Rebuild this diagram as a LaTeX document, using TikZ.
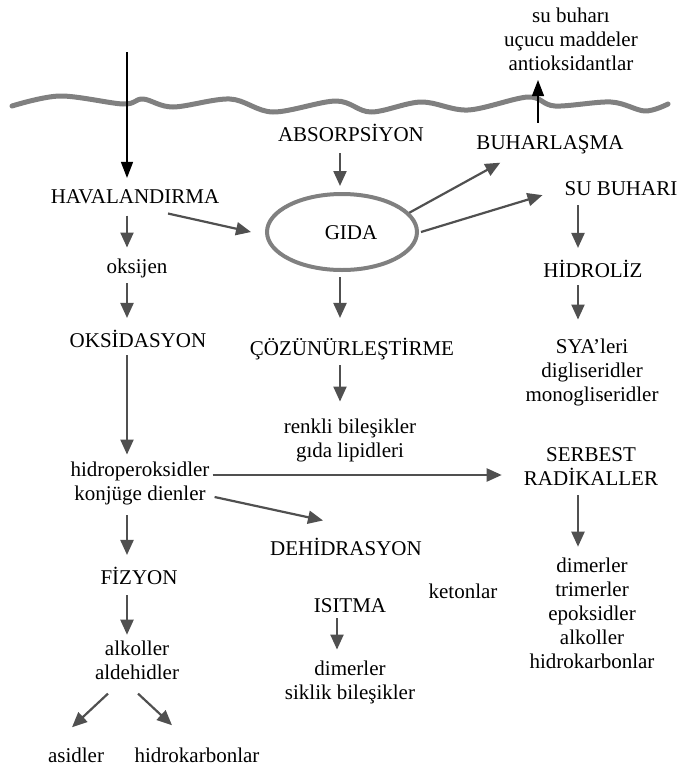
\documentclass[tikz,border=0pt]{standalone}
\usepackage{fontspec}
\setmainfont{Liberation Serif}
\usetikzlibrary{arrows.meta,calc,shapes.geometric}
\definecolor{arrgray}{HTML}{505050}
\definecolor{wavegray}{HTML}{808080}
\begin{document}
\begin{tikzpicture}[x=1pt,y=-1pt,
  lbl/.style={inner sep=0pt, align=center, font=\fontsize{21}{24}\selectfont},
  bl/.style={lbl, anchor=base},
  arr/.style={draw=arrgray, line width=2.2pt, -{Triangle[length=15pt,width=13pt]}},
  blk/.style={draw=black, line width=1.3pt, -{Triangle[length=16pt,width=12pt]}},
  ell/.style={ellipse, draw=wavegray, line width=4pt, minimum width=150pt, minimum height=76pt, inner sep=0pt},
  wave/.style={draw=wavegray, line width=5pt, line join=round, line cap=round}]
\useasboundingbox (0,0) rectangle (678,769);

% surface
\draw[wave] plot[smooth,tension=0.55] coordinates {(12,106) (60,96) (123,104) (143,99) (173,107) (230,99) (273,112) (336,101) (371,112) (421,102) (468,110) (528,97) (555,106) (611,102) (645,111) (668,104)};

% columns
\coordinate (cL) at (127,0);
\coordinate (cM) at (340,0);
\coordinate (cI) at (337,0);
\coordinate (cR) at (578,0);
\coordinate (topL) at (127,52);
\coordinate (topR) at (538,80);

% nodes
\node[lbl] (sub1) at (571,39) {su buharı\\uçucu maddeler\\antioksidantlar};
\node[bl] (hav) at (135,203) {HAVALANDIRMA};
\node[bl] (oksj) at (137,273) {oksijen};
\node[bl] (oksd) at (138,347) {OKSİDASYON};
\node[lbl] (hidro) at (140,483) {hidroperoksidler\\konjüge dienler};
\node[bl] (fiz) at (139,584) {FİZYON};
\node[lbl] (ald) at (137,660) {alkoller\\aldehidler};
\node[bl] (asid) at (76,762) {asidler};
\node[bl] (hk1) at (197,762) {hidrokarbonlar};

\node[bl] (abs) at (351,141) {ABSORPSİYON};
\node[ell] (gida) at (342,232) {};
\node[bl] (gidat) at (351,239) {GIDA};
\node[bl] (coz) at (352,355) {ÇÖZÜNÜRLEŞTİRME};
\node[lbl] (renk) at (350,440) {renkli bileşikler\\gıda lipidleri};
\node[bl] (dehid) at (346,555) {DEHİDRASYON};
\node[bl] (isit) at (350,612) {ISITMA};
\node[bl] (keton) at (463,598) {ketonlar};
\node[lbl] (dim2) at (350,682) {dimerler\\siklik bileşikler};

\node[bl] (buh) at (550,149) {BUHARLAŞMA};
\node[bl] (sub) at (621,195) {SU BUHARI};
\node[bl] (hidrol) at (593,277) {HİDROLİZ};
\node[lbl] (sya) at (592,372) {SYA’leri\\digliseridler\\monogliseridler};
\node[lbl] (ser) at (591,467) {SERBEST\\RADİKALLER};
\node[lbl] (dim1) at (592,613) {dimerler\\trimerler\\epoksidler\\alkoller\\hidrokarbonlar};

% black arrows through the surface
\draw[blk, shorten >=11pt] (topL) -- (hav.north -| topL);
\draw[blk, shorten <=12pt] (buh.north -| topR) -- (topR);

% left column
\draw[arr, shorten <=12pt, shorten >=10.7pt] (hav.south -| cL) -- (oksj.north -| cL);
\draw[arr, shorten <=5.4pt, shorten >=11.5pt] (oksj.south -| cL) -- (oksd.north -| cL);
\draw[arr, shorten <=8pt, shorten >=6.7pt] (oksd.south -| cL) -- (hidro.north -| cL);
\draw[arr, shorten <=10.4pt, shorten >=11.5pt] (hidro.south -| cL) -- (fiz.north -| cL);
\draw[arr, shorten <=11pt, shorten >=5.7pt] (fiz.south -| cL) -- (ald.north -| cL);
\draw[arr] ([shift={(-29,14)}]ald.south) -- ([shift={(-4,-20)}]asid.north);
\draw[arr] ([shift={(1,14)}]ald.south) -- ([shift={(-25,-22)}]hk1.north);

% middle column
\draw[arr, shorten <=12pt, shorten >=6pt] (abs.south -| cM) -- (gida.north -| cM);
\draw[arr, shorten <=5pt, shorten >=19.5pt] (gida.south -| cM) -- (coz.north -| cM);
\draw[arr, shorten <=5.7pt, shorten >=16.7pt] (coz.south -| cM) -- (renk.north -| cM);
\draw[arr, shorten <=6pt, shorten >=10.7pt] (isit.south -| cI) -- (dim2.north -| cI);

% right column
\draw[arr, shorten <=10pt, shorten >=11.5pt] (sub.south -| cR) -- (hidrol.north -| cR);
\draw[arr, shorten <=8pt, shorten >=18.7pt] (hidrol.south -| cR) -- (sya.north -| cR);
\draw[arr, shorten <=9pt, shorten >=10.7pt] (ser.south -| cR) -- (dim1.north -| cR);

% diagonals around GIDA
\draw[arr] ([shift={(33,10)}]hav.south) -- ([xshift=-14pt]gida.west);
\draw[arr] (gida.16) -- ([shift={(24,9)}]buh.south west);
\draw[arr] ([xshift=2pt]gida.east) -- ([shift={(-22,7)}]sub.west);

% from hydroperoxides
\path ([shift={(3,-8)}]hidro.east) coordinate (h1);
\path ([xshift=-22pt]ser.west) coordinate (s1);
\draw[arr] (h1) -- (s1 |- h1);
\draw[arr] ([shift={(5,14)}]hidro.east) -- ([shift={(-23,-17)}]dehid.north);
\end{tikzpicture}
\end{document}
